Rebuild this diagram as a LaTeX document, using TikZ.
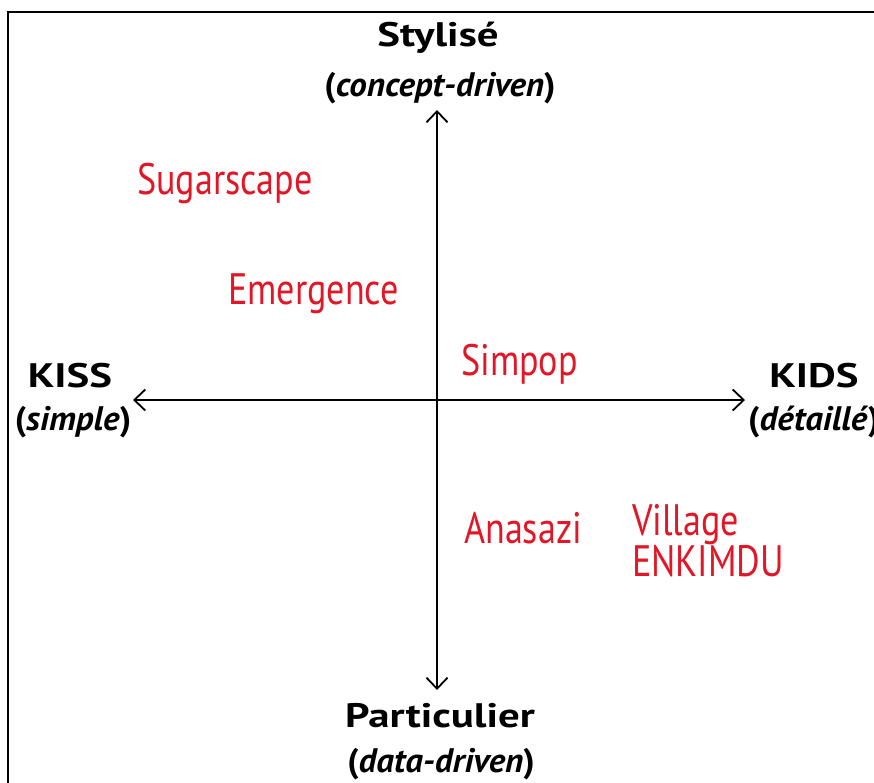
\documentclass[tikz,border=0pt]{standalone}
\usepackage{fontspec}
\setmainfont{PT Sans}[FakeStretch=0.82]
\newfontfamily\polefont{PT Sans}[FakeStretch=1.26]
\newfontfamily\subfont{PT Sans}[FakeStretch=1.03]
\usetikzlibrary{arrows.meta}
\definecolor{lblred}{RGB}{225,22,38}
\begin{document}
\begin{tikzpicture}[x=1pt,y=-1pt,
  tip/.tip={Straight Barb[length=11pt,width=21pt,line width=1.8pt]},
  axis/.style={line width=1.8pt,tip-tip},
  pole/.style={font=\polefont\fontsize{34}{38}\selectfont\bfseries,inner sep=0pt,anchor=base},
  sub/.style={font=\subfont\fontsize{34}{38}\selectfont\bfseries,inner sep=0pt,anchor=base},
  model/.style={font=\fontsize{44}{41}\selectfont,text=lblred,inner sep=0pt,anchor=base west,align=left}]
\useasboundingbox (0,0) rectangle (874,783);
\draw[line width=2.5pt] (8,783) -- (8,12) -- (874,12);
% axes ends
\coordinate (top) at (437,110);
\coordinate (bot) at (437,690);
\coordinate (lft) at (133,400);
\coordinate (rgt) at (745,400);
\draw[axis] (bot) -- (top);
\draw[axis] (lft) -- (rgt);
% poles
\node[pole] (styl) at (438,47) {Stylisé};
\node[sub] (concept) at (440,97) {(\textit{concept-driven})};
\node[pole] (kiss) at (70,387) {KISS};
\node[sub] (simple) at (73,430) {(\textit{simple})};
\node[pole] (kids) at (814,387) {KIDS};
\node[sub,anchor=base west] (detail) at (748,430) {(\textit{détaillé})};
\node[pole] (part) at (440,727) {Particulier};
\node[sub] (data) at (441,772) {(\textit{data-driven})};
% models
\node[model] (sugar) at (137,195) {Sugarscape};
\node[model] (emerg) at (228,304) {Emergence};
\node[model] (simpop) at (461,375) {Simpop};
\node[model] (anasazi) at (464,543) {Anasazi};
\node[model] (village) at (632,576) {Village\\ENKIMDU};
\end{tikzpicture}
\end{document}
